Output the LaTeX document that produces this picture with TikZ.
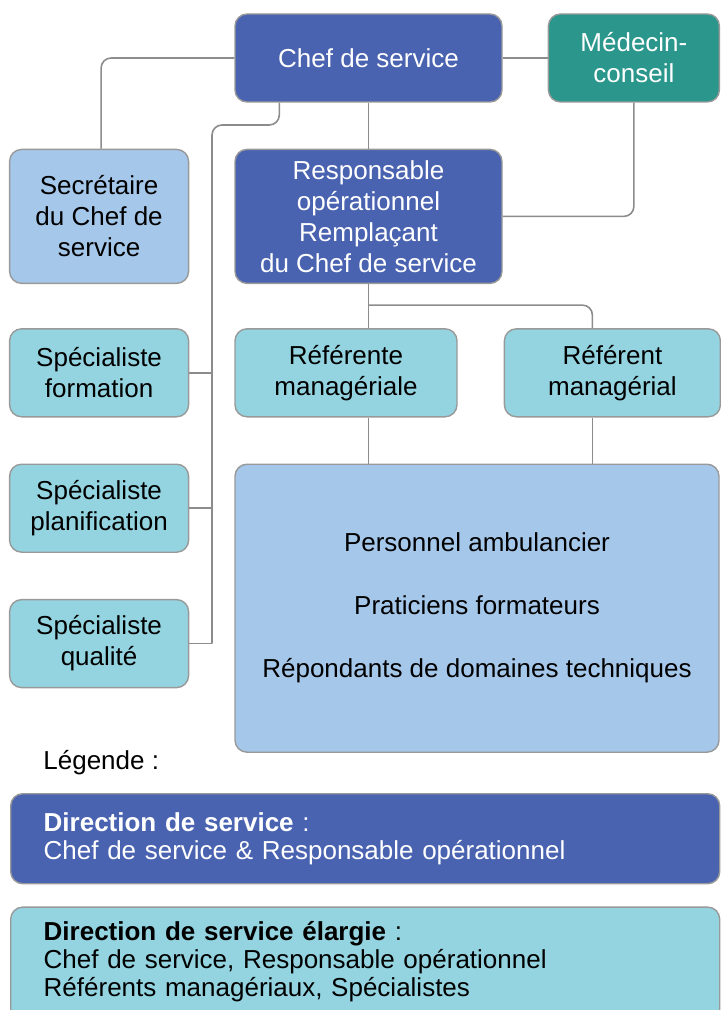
\documentclass[tikz,border=0pt]{standalone}
\usepackage{fontspec}
\setmainfont{Liberation Sans}
\usepackage{xcolor}
\usepackage{tikz}
\usetikzlibrary{positioning}
\definecolor{colorDir}{HTML}{4A63B0}
\definecolor{colorMed}{HTML}{2A968C}
\definecolor{colorSec}{HTML}{A5C7EA}
\definecolor{colorSpec}{HTML}{93D4E0}
\definecolor{colorLine}{HTML}{8C8C8C}

\begin{document}
\begin{tikzpicture}[
  x=1pt, y=1pt,
  node distance=23pt and 22.5pt,
  every node/.style={font=\fontsize{13}{15.5}\selectfont},
  box/.style={draw=black!40, rounded corners=6pt, line width=0.7pt,
              align=center, inner sep=0pt},
  dirbox/.style={box, fill=colorDir, text=white, minimum width=133.5pt},
  medbox/.style={box, fill=colorMed, text=white, minimum width=85.5pt,
                 minimum height=44pt},
  secbox/.style={box, fill=colorSec, minimum width=89.5pt},
  specbox/.style={box, fill=colorSpec, minimum width=89.5pt, minimum height=44pt},
  legbox/.style={box, align=left, text width=321.5pt, inner xsep=16.5pt,
                 inner ysep=7pt, font=\fontsize{13}{14}\selectfont},
  link/.style={draw=colorLine, line width=0.8pt, rounded corners=5pt}
]
\useasboundingbox (0,0) rectangle (360,-505);

\node[dirbox, minimum height=44pt] (chef) at (184.25,-29) {Chef de service};
\node[medbox, right=of chef] (med) {Médecin-\\conseil};
\node[dirbox, minimum height=67pt, below=of chef] (resp)
  {Responsable\\opérationnel\\Remplaçant\\du Chef de service};
\node[secbox, minimum height=67pt, left=of resp] (sec) {Secrétaire\\du Chef de\\service};

\node[specbox, minimum width=111pt, below=22pt of resp.south west, anchor=north west] (refe)
  {Référente\\managériale};
\node[specbox, minimum width=108pt, right=23pt of refe] (refm) {Référent\\managérial};
\node[specbox, left=of refe] (form) {Spécialiste\\formation};
\node[specbox, below=of form] (plan) {Spécialiste\\planification};
\node[specbox, below=of plan] (qual) {Spécialiste\\qualité};
\node[secbox, minimum width=242pt, minimum height=144pt,
      below=of refe.south west, anchor=north west] (staff)
  {Personnel ambulancier\\[16pt]Praticiens formateurs\\[16pt]Répondants de domaines techniques};

\node[anchor=west, inner sep=0pt] (legtitle) at (21.5,-381.5) {Légende :};
\node[legbox, fill=colorDir, text=white, minimum height=45pt, anchor=north west] (legdir)
  at (5,-396.5) {\textbf{Direction de service} :\\Chef de service \& Responsable opérationnel};
\node[legbox, fill=colorSpec, text depth=40pt, below=11pt of legdir] (legext)
  {\textbf{Direction de service élargie} :\\Chef de service, Responsable opérationnel\\Référents managériaux, Spécialistes};

% chef de service
\draw[link] (chef.west) -| ([xshift=1pt]sec.north);
\draw[link] (chef.east) -- (med.west);
\draw[link] (chef.south) -- (resp.north);
\draw[link] (med.south) |- (resp.east);

% specialistes
\coordinate (chefout) at ([xshift=22.5pt]chef.south west);
\coordinate (spine) at (106,-62.5);
\draw[link] (chefout) |- (spine) -- (spine |- qual.east);
\draw[link] (qual.east) -- (spine |- qual.east);
\draw[link] (form.east) -- (form.east -| spine);
\draw[link] (plan.east) -- (plan.east -| spine);

% referents
\coordinate (refmin) at ([xshift=-10pt]refm.north);
\draw[link] (resp.south) -- (resp.south |- refe.north);
\draw[link] ([yshift=-10.5pt]resp.south) -| (refmin);
\draw[link] (resp.south |- refe.south) -- (resp.south |- staff.north);
\draw[link] (refmin |- refm.south) -- (refmin |- staff.north);

\end{tikzpicture}
\end{document}
